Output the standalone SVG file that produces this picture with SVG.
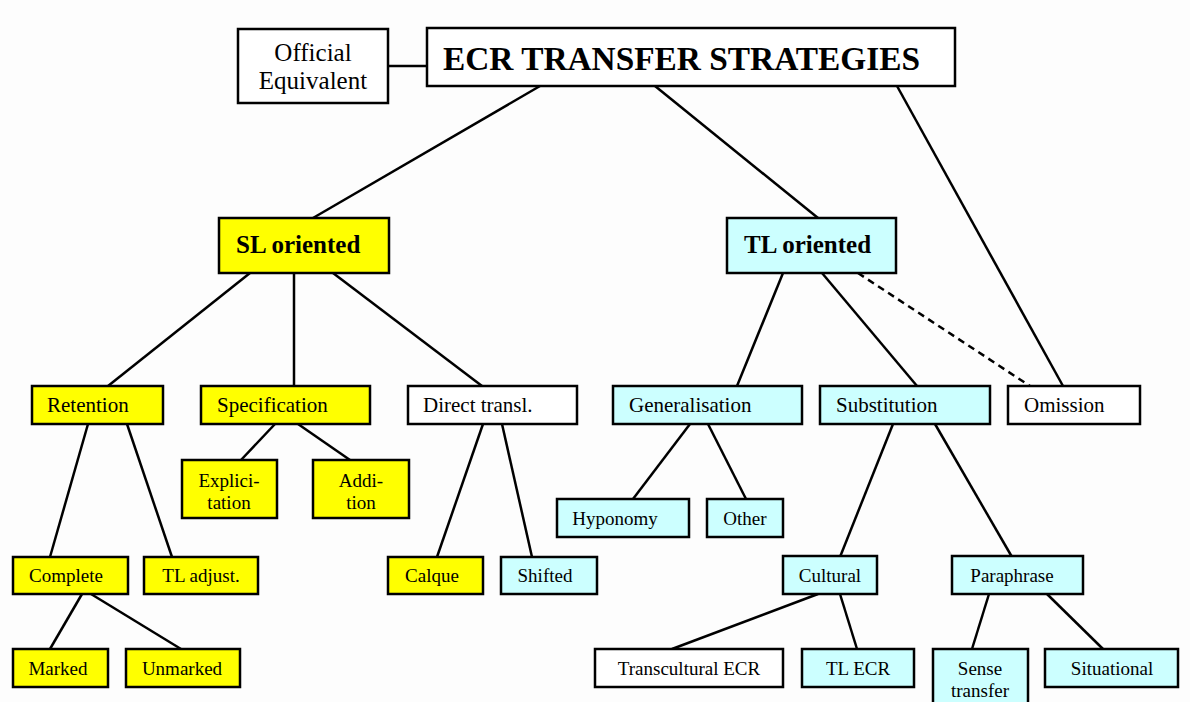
<svg xmlns="http://www.w3.org/2000/svg" width="1190" height="702" viewBox="0 0 1190 702">
<style>
rect{stroke:#000;stroke-width:2.5}
.y{fill:#ffff00}.c{fill:#ccffff}.w{fill:#fff}
text{font-family:"Liberation Serif","Times New Roman",serif;font-size:19px;fill:#000}
.l2{font-size:21px}
.m{text-anchor:middle}
.b{font-weight:bold}
#conn line{stroke:#000;stroke-width:2.5}
</style>
<rect x="0" y="0" width="1190" height="702" fill="#fdfdfd" style="stroke:none"/>
<g id="conn">
<line x1="388" y1="66" x2="427" y2="66"/>
<line x1="540" y1="86" x2="313" y2="218"/>
<line x1="655" y1="86" x2="818" y2="218"/>
<line x1="897" y1="86" x2="1063" y2="386"/>
<line x1="858" y1="273" x2="1030" y2="386" stroke-dasharray="7,5"/>
<line x1="250" y1="273" x2="108" y2="386"/>
<line x1="294" y1="273" x2="294" y2="386"/>
<line x1="333" y1="273" x2="482" y2="386"/>
<line x1="783" y1="273" x2="737" y2="386"/>
<line x1="822" y1="273" x2="917" y2="386"/>
<line x1="88" y1="424" x2="50" y2="557"/>
<line x1="127" y1="424" x2="172" y2="557"/>
<line x1="275" y1="424" x2="241" y2="460"/>
<line x1="298" y1="424" x2="350" y2="460"/>
<line x1="483" y1="424" x2="437" y2="557"/>
<line x1="502" y1="424" x2="532" y2="557"/>
<line x1="690" y1="424" x2="633" y2="499"/>
<line x1="708" y1="424" x2="746" y2="499"/>
<line x1="893" y1="424" x2="840" y2="557"/>
<line x1="935" y1="424" x2="1012" y2="557"/>
<line x1="82" y1="594" x2="50" y2="649"/>
<line x1="91" y1="594" x2="181" y2="649"/>
<line x1="818" y1="594" x2="672" y2="649"/>
<line x1="840" y1="594" x2="857" y2="649"/>
<line x1="989" y1="594" x2="972" y2="649"/>
<line x1="1047" y1="594" x2="1103" y2="649"/>
</g>
<g id="official"><rect class="w" x="238" y="29" width="150" height="74"/><text class="m" x="313" y="61" style="font-size:25px">Official</text><text class="m" x="313" y="89" style="font-size:25px">Equivalent</text></g>
<g id="ecr"><rect class="w" x="427" y="28" width="528" height="58"/><text class="b" x="443" y="70" style="font-size:33px" textLength="477" lengthAdjust="spacingAndGlyphs">ECR TRANSFER STRATEGIES</text></g>
<g id="sl"><rect class="y" x="219" y="218" width="170" height="55"/><text class="b" x="236" y="253" style="font-size:25px">SL oriented</text></g>
<g id="tl"><rect class="c" x="727" y="218" width="169" height="55"/><text class="b" x="744" y="253" style="font-size:25px">TL oriented</text></g>
<g id="retention"><rect class="y" x="32" y="386" width="131" height="38"/><text class="l2" x="47" y="412">Retention</text></g>
<g id="specification"><rect class="y" x="201" y="386" width="169" height="38"/><text class="l2" x="217" y="412">Specification</text></g>
<g id="direct"><rect class="w" x="408" y="386" width="169" height="38"/><text class="l2" x="423" y="412">Direct transl.</text></g>
<g id="generalisation"><rect class="c" x="613" y="386" width="189" height="38"/><text class="l2" x="629" y="412">Generalisation</text></g>
<g id="substitution"><rect class="c" x="820" y="386" width="170" height="38"/><text class="l2" x="836" y="412">Substitution</text></g>
<g id="omission"><rect class="w" x="1008" y="386" width="132" height="38"/><text class="l2" x="1024" y="412">Omission</text></g>
<g id="explicitation"><rect class="y" x="182" y="460" width="95" height="58"/><text class="m" x="229" y="487">Explici-</text><text class="m" x="229" y="509">tation</text></g>
<g id="addition"><rect class="y" x="313" y="460" width="96" height="58"/><text class="m" x="361" y="487">Addi-</text><text class="m" x="361" y="509">tion</text></g>
<g id="hyponomy"><rect class="c" x="557" y="499" width="132" height="38"/><text class="m" x="615" y="525">Hyponomy</text></g>
<g id="other"><rect class="c" x="707" y="499" width="76" height="38"/><text class="m" x="745" y="525">Other</text></g>
<g id="complete"><rect class="y" x="13" y="557" width="115" height="37"/><text class="m" x="66" y="582">Complete</text></g>
<g id="tladjust"><rect class="y" x="144" y="557" width="114" height="37"/><text class="m" x="201" y="582">TL adjust.</text></g>
<g id="calque"><rect class="y" x="388" y="557" width="95" height="37"/><text class="m" x="432" y="582">Calque</text></g>
<g id="shifted"><rect class="c" x="501" y="557" width="96" height="37"/><text class="m" x="545" y="582">Shifted</text></g>
<g id="cultural"><rect class="c" x="783" y="556" width="94" height="38"/><text class="m" x="830" y="582">Cultural</text></g>
<g id="paraphrase"><rect class="c" x="952" y="556" width="131" height="38"/><text class="m" x="1012" y="582">Paraphrase</text></g>
<g id="marked"><rect class="y" x="13" y="649" width="95" height="38"/><text class="m" x="58" y="675">Marked</text></g>
<g id="unmarked"><rect class="y" x="126" y="649" width="114" height="38"/><text class="m" x="182" y="675">Unmarked</text></g>
<g id="transcultural"><rect class="w" x="595" y="649" width="188" height="38"/><text class="m" x="689" y="675">Transcultural ECR</text></g>
<g id="tlecr"><rect class="c" x="802" y="649" width="112" height="38"/><text class="m" x="858" y="675">TL ECR</text></g>
<g id="sense"><rect class="c" x="933" y="649" width="95" height="60"/><text class="m" x="980" y="675">Sense</text><text class="m" x="980" y="697">transfer</text></g>
<g id="situational"><rect class="c" x="1045" y="649" width="133" height="38"/><text class="m" x="1112" y="675">Situational</text></g>
</svg>
